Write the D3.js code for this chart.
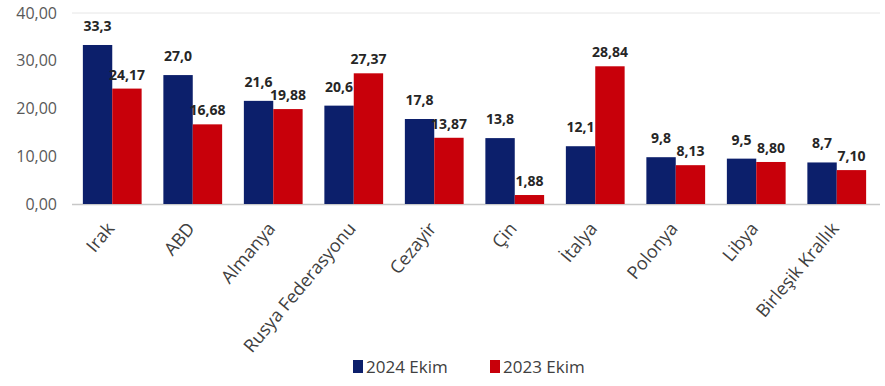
<!DOCTYPE html>
<html><head><meta charset="utf-8">
<script src="https://cdn.jsdelivr.net/npm/d3@7"></script>
<style>body{margin:0;background:#fff}svg{display:block}</style>
</head><body>
<svg id="c" width="885" height="386"></svg>
<script>
const categories = ["Irak","ABD","Almanya","Rusya Federasyonu","Cezayir","Çin","İtalya","Polonya","Libya","Birleşik Krallık"];
const series2024 = [33.3,27.0,21.6,20.6,17.8,13.8,12.1,9.8,9.5,8.7];
const series2023 = [24.17,16.68,19.88,27.37,13.87,1.88,28.84,8.13,8.80,7.10];
const labels2024 = ["33,3","27,0","21,6","20,6","17,8","13,8","12,1","9,8","9,5","8,7"];
const labels2023 = ["24,17","16,68","19,88","27,37","13,87","1,88","28,84","8,13","8,80","7,10"];
const yTicks = [0,10,20,30,40];
const seriesNames = ["2024 Ekim","2023 Ekim"];
const colors = ["#0c1f6b","#c8000a"];

const font = "'Open Sans',sans-serif";
const svg = d3.select("#c");
const m = {l:72, r:8};
const W = 885;
const x = d3.scaleBand().domain(categories).range([m.l, W - m.r]).paddingInner(0.27).paddingOuter(0.135);
const x1 = d3.scaleBand().domain([0,1]).range([0, x.bandwidth()]);
const y = d3.scaleLinear().domain([0,40]).range([204, 13]);

// top border line & baseline
svg.append("line").attr("x1", m.l).attr("x2", W - 5).attr("y1", y(40)).attr("y2", y(40)).attr("stroke","#e6e6e6");
svg.append("line").attr("x1", m.l).attr("x2", W - 5).attr("y1", y(0)+0.5).attr("y2", y(0)+0.5).attr("stroke","#c8c8c8").attr("stroke-width",1.5);

// y axis
const yAxis = d3.axisLeft(y).tickValues(yTicks).tickSize(0).tickPadding(0)
  .tickFormat(d => d3.format(".2f")(d).replace(".", ","));
const ya = svg.append("g").attr("transform", `translate(57,0)`).call(yAxis);
ya.select(".domain").remove();
ya.selectAll("text").attr("font-family", font).attr("font-size", 16).attr("fill", "#595959");

const data = categories.map((c,i) => ({c, v:[series2024[i], series2023[i]], l:[labels2024[i], labels2023[i]]}));
const g = svg.append("g");
data.forEach(d => {
  [0,1].forEach(s => {
    g.append("rect")
      .attr("x", x(d.c) + x1(s)).attr("width", x1.bandwidth())
      .attr("y", y(d.v[s])).attr("height", y(0) - y(d.v[s]))
      .attr("fill", colors[s]);
    g.append("text")
      .attr("x", x(d.c) + x1(s) + x1.bandwidth()/2)
      .attr("y", y(d.v[s]) - (s === 0 ? 14 : 9))
      .attr("text-anchor","middle")
      .attr("font-family", font).attr("font-size", 14).attr("font-weight","bold")
      .attr("fill","#262626").text(d.l[s]);
  });
});

// x axis labels
const xAxis = d3.axisBottom(x).tickSize(0).tickPadding(0);
const xa = svg.append("g").attr("transform", `translate(0,${y(0)})`).call(xAxis);
xa.select(".domain").remove();
xa.selectAll("text")
  .attr("font-family", font).attr("font-size", 18).attr("fill","#404040")
  .attr("text-anchor","end").attr("dy", null).attr("y", 0)
  .attr("transform", "translate(3,25) rotate(-50)");

// legend
const leg = svg.append("g");
const legX = [353, 490];
seriesNames.forEach((n,i) => {
  leg.append("rect").attr("x", legX[i]).attr("y", 360).attr("width", 10).attr("height", 13).attr("fill", colors[i]);
  leg.append("text").attr("x", legX[i] + 13).attr("y", 373)
    .attr("font-family", font).attr("font-size", 17).attr("fill","#404040").text(n);
});
</script>
</body></html>
